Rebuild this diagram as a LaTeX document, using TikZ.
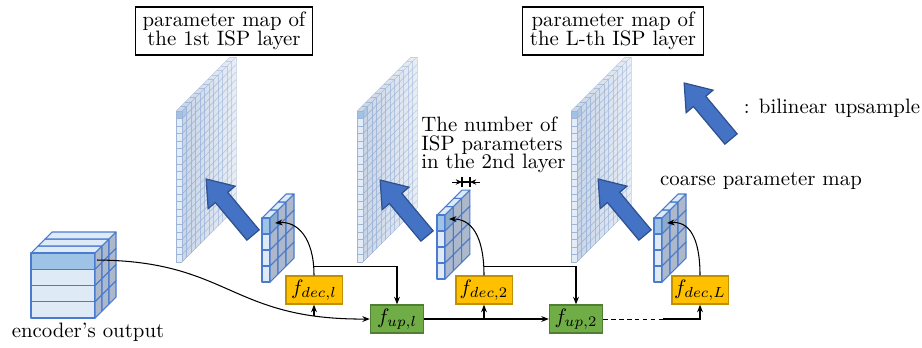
\documentclass[tikz,border=0pt]{standalone}
\usetikzlibrary{arrows.meta,calc}

\definecolor{frontcell}{HTML}{DEEBF7}
\definecolor{hicell}{HTML}{9DC3E6}
\definecolor{sidecell}{HTML}{ADB9CA}
\definecolor{sidehi}{HTML}{8EAACB}
\definecolor{edgeblue}{HTML}{4A7BD0}
\definecolor{planeL}{HTML}{C9D5E6}
\definecolor{planeR}{HTML}{E9EEF5}
\definecolor{planefront}{HTML}{E3ECF7}
\definecolor{planehi}{HTML}{A3C1E3}
\definecolor{planegrid}{HTML}{9DB5D9}
\definecolor{arrowfill}{HTML}{4472C4}
\definecolor{arrowedge}{HTML}{2F528F}
\definecolor{decfill}{HTML}{FFC000}
\definecolor{decedge}{HTML}{BF9000}
\definecolor{upfill}{HTML}{70AD47}
\definecolor{upedge}{HTML}{507E32}

\tikzset{
  cell/.style={draw=edgeblue,line width=0.5pt,line join=round},
  titlebox/.style={draw,line width=0.6pt,align=center,inner xsep=3.5pt,inner ysep=2.5pt,
    font=\fontsize{10}{9}\selectfont},
  decbox/.style={draw=decedge,fill=decfill,line width=0.6pt,minimum width=27pt,
    minimum height=13.5pt,inner sep=1pt},
  upbox/.style={draw=upedge,fill=upfill,line width=0.6pt,minimum width=25.5pt,
    minimum height=13.5pt,inner sep=1pt},
  link/.style={line width=0.5pt,-{Stealth[length=3.6pt,width=2.8pt]}},
  plain/.style={line width=0.5pt},
  gridline/.style={draw=planegrid,line width=0.3pt},
  bigarrow/.style={fill=arrowfill,draw=arrowedge,line width=0.6pt,line join=miter},
}

% block of cells: #1,#2 top-left of front face, #3 front width, #4 row height,
% #5 rows, #6 depth step, #7 depth cells, #8 colour of the first side cell
\newcommand\gridblock[8]{%
  \foreach \k in {1,...,#7}{%
    \pgfmathsetmacro\xa{#1+(\k-1)*#6}%
    \pgfmathsetmacro\ya{#2-(\k-1)*#6}%
    \filldraw[cell,fill=frontcell] (\xa,\ya) -- ++(#3,0) -- ++(#6,-#6) -- ++(-#3,0) -- cycle;
  }%
  \foreach \i in {1,...,#5}{%
    \pgfmathsetmacro\ya{#2+(\i-1)*#4}%
    \ifnum\i=1 \def\fc{hicell}\else\def\fc{frontcell}\fi
    \filldraw[cell,fill=\fc] (#1,\ya) rectangle ++(#3,#4);
    \foreach \k in {1,...,#7}{%
      \pgfmathsetmacro\xa{#1+#3+(\k-1)*#6}%
      \pgfmathsetmacro\yb{\ya-(\k-1)*#6}%
      \def\sc{sidecell}%
      \ifnum\i=1 \ifnum\k=1 \def\sc{#8}\fi\fi
      \filldraw[cell,fill=\sc] (\xa,\yb) -- ++(#6,-#6) -- ++(0,#4) -- ++(-#6,#6) -- cycle;
    }%
  }%
}

% upsampled parameter plane, #1,#2 top-left of its front strip
\newcommand\bigplane[2]{%
  \shade[left color=planeL,right color=planeR] (#1+6,#2) -- ++(54,-54) -- ++(0,151) -- ++(-54,54) -- cycle;
  \shade[left color=planeL,right color=planeR] (#1,#2) -- ++(6,0) -- ++(54,-54) -- ++(-6,0) -- cycle;
  \fill[planefront] (#1,#2) rectangle ++(6,151);
  \fill[planehi] (#1,#2) rectangle ++(6,7.55);
  \fill[planehi!70!planeL] (#1+6,#2) -- ++(4.5,-4.5) -- ++(0,7.55) -- ++(-4.5,4.5) -- cycle;
  \foreach \i in {0,...,20}{\draw[gridline] (#1,#2+\i*7.55) -- ++(6,0);}
  \draw[gridline] (#1,#2) -- ++(0,151);
  \draw[gridline,draw opacity=0.6] (#1,#2) -- ++(54,-54);
  \foreach \k in {0,...,11}{%
    \pgfmathsetmacro\op{1-0.045*\k}%
    \foreach \i in {0,...,20}{%
      \draw[gridline,draw opacity=\op] (#1+6+\k*4.5,#2+\i*7.55-\k*4.5) -- ++(4.5,-4.5);}
    \draw[gridline,draw opacity=\op] (#1+\k*4.5,#2-\k*4.5) -- ++(6,0) -- ++(0,151);
  }%
  \draw[gridline,draw opacity=0.45] (#1+54,#2-54) -- ++(6,0) -- ++(0,151);
}

% block arrow for bilinear upsampling, #1 = tail point
\newcommand\upsample[1]{%
  \begin{scope}[shift={#1},rotate=129.9]
    \filldraw[bigarrow] (0,-8) -- (49,-8) -- (49,-17.5) -- (73,0) -- (49,17.5) -- (49,8) -- (0,8) -- cycle;
  \end{scope}}

\begin{document}
\begin{tikzpicture}[x=0.48pt,y=-0.48pt]
\fill[white] (0,0) rectangle (922,347);
\useasboundingbox (0,0) rectangle (922,347);

% fine parameter maps
\bigplane{176}{111}
\bigplane{357}{111}
\bigplane{571}{111}

% upsampling arrows
\upsample{(253,235)}
\upsample{(427,236)}
\upsample{(645,235)}
\upsample{(731,139)}

% coarse maps and encoder output
\gridblock{262}{218}{8}{16}{4}{8}{3}{sidehi}
\gridblock{437}{215}{8}{16}{4}{8.3}{3}{sidehi}
\gridblock{654}{218}{8}{16}{4}{8}{3}{sidehi}
\gridblock{31}{253}{64}{16.25}{4}{7}{3}{sidecell}

% labels
\node[titlebox] (title1) at (224,31) {parameter map of\\the 1st ISP layer};
\node[titlebox] (titleL) at (613,31) {parameter map of\\the L-th ISP layer};
\node[anchor=west,align=left,inner sep=0pt,font=\fontsize{10}{9}\selectfont] (nparams)
  at (421,145) {The number of\\ISP parameters\\in the 2nd layer};
\node (coarse) at (761,181) {coarse parameter map};
\node (legend) at (832,108) {: bilinear upsample};
\node (enclabel) at (88,332) {encoder's output};

% decoder and upsampling blocks
\node[decbox] (dec1) at (314,290) {$f_{dec,l}$};
\node[decbox] (dec2) at (484,290) {$f_{dec,2}$};
\node[decbox] (decL) at (700,290) {$f_{dec,L}$};
\node[upbox] (up1) at (397,319) {$f_{up,l}$};
\node[upbox] (up2) at (576,319) {$f_{up,2}$};

% connection points
\coordinate (encout) at (97,260);
\coordinate (c1) at (275,223);
\coordinate (c2) at (449,219);
\coordinate (c3) at (667,223);
\coordinate (dashend) at (663,319);
\coordinate (s1) at ($(dec1.north)+(0,-9)$);
\coordinate (s2) at ($(dec2.north)+(0,-9)$);

% connectors
\draw[link] (encout) .. controls (230,261) and (230,320) .. (up1.west) coordinate[pos=0.85] (b1);
\draw[link] (dec1.south |- b1) -- (dec1.south);
\draw[link] (dec1.north) .. controls +(0,-38) and +(22,-2) .. (c1);
\draw[link] (s1) -| (up1.north);
\draw[link] (up1.east) -- (up2.west);
\draw[link] (dec2.south |- up1.east) -- (dec2.south);
\draw[link] (dec2.north) .. controls +(0,-40) and +(22,0) .. (c2);
\draw[link] (s2) -| (up2.north);
\draw[line width=0.4pt,dash pattern=on 2.2pt off 1.6pt] (up2.east) -- (dashend);
\draw[link] (dashend) -| (decL.south);
\draw[link] (decL.north) .. controls +(0,-38) and +(22,-2) .. (c3);

% width marker above the second coarse map
\coordinate (wl) at (462,182);
\coordinate (wr) at (470,182);
\coordinate (wla) at (452,182);
\coordinate (wrb) at (480,182);
\draw[plain] (462,177) -- (462,187);
\draw[plain] (470,177) -- (470,187);
\draw[plain] (wl) -- (wr);
\draw[line width=0.4pt,-{Stealth[length=3pt,width=2.6pt]}] (wla) -- (wl);
\draw[line width=0.4pt,-{Stealth[length=3pt,width=2.6pt]}] (wrb) -- (wr);
\end{tikzpicture}
\end{document}
